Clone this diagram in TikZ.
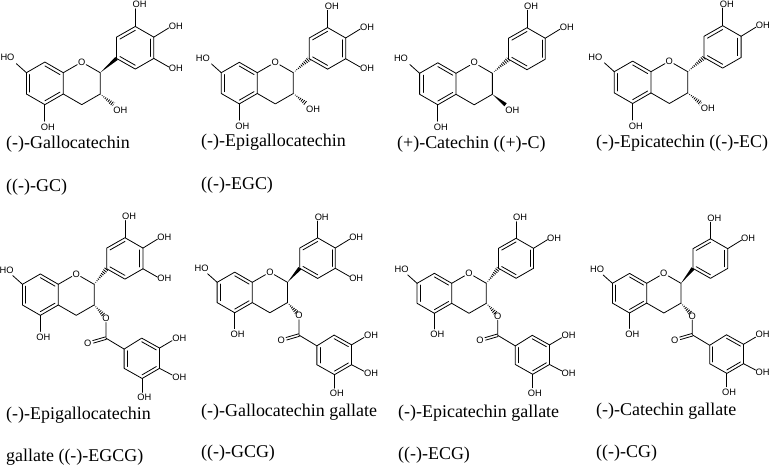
\documentclass[tikz,border=0pt]{standalone}
\usepackage{fontspec}
\setmainfont{Liberation Serif}
\newfontfamily\labfont{Liberation Sans}
\usetikzlibrary{calc}
\tikzset{
  bond/.style={line width=0.8pt,black,line cap=round,line join=round},
  lab/.style={font=\labfont\fontsize{9.3}{10}\selectfont,inner sep=0.6pt,text=black},
  captext/.style={font=\fontsize{17.95}{20}\selectfont,anchor=base west,inner sep=0pt,text=black}
}
\newcommand\wedgebond[2]{\fill[black] (#1) -- ($(#2)!1.9pt!90:(#1)$) -- ($(#2)!1.9pt!-90:(#1)$) -- cycle;}
\newcommand\hashbond[2]{\begin{scope}
  \clip (#1) -- ($(#2)!2.4pt!90:(#1)$) -- ($(#2)!2.4pt!-90:(#1)$) -- cycle;
  \draw[black,line width=6pt,dash pattern=on 0.8pt off 1.3pt] (#1) -- (#2);
\end{scope}}
% double bond: second line inside the ring, towards centre #3
\newcommand\dbl[3]{\draw[bond] ($(#1)!0.18!(#3)$) -- ($(#2)!0.18!(#3)$);}
% chroman core: prefix, x position of the HO label
\newcommand\core[2]{
  \coordinate (#1c8a) at (0,0);
  \coordinate (#1c4a) at (0,1);
  \coordinate (#1c5) at (-.866,1.5);
  \coordinate (#1c6) at (-1.732,1);
  \coordinate (#1c7) at (-1.732,0);
  \coordinate (#1c8) at (-.866,-.5);
  \coordinate (#1c2) at (1.732,0);
  \coordinate (#1c3) at (1.732,1);
  \coordinate (#1c4) at (.866,1.5);
  \coordinate (#1ca) at (-.866,.5);
  \node[lab] (#1O) at (.866,-.5) {O};
  \coordinate (#1x7) at (-2.2,-.42);
  \coordinate (#1x5) at (-.866,2.28);
  \node[lab] (#1ho7) at (#2,-.7) {HO};
  \node[lab] (#1oh5) at (-.72,2.56) {OH};
  \draw[bond] (#1c8a) -- (#1c4a) -- (#1c5) -- (#1c6) -- (#1c7) -- (#1c8) -- (#1c8a);
  \draw[bond] (#1c8a) -- (#1O) -- (#1c2) -- (#1c3) -- (#1c4) -- (#1c4a);
  \draw[bond] (#1c7) -- (#1x7);
  \draw[bond] (#1c5) -- (#1x5);
  \dbl{#1c8}{#1c8a}{#1ca}
  \dbl{#1c4a}{#1c5}{#1ca}
  \dbl{#1c6}{#1c7}{#1ca}
}
% B ring: prefix, stereo of C2 bond, third hydroxyl (1 = drawn)
\newcommand\ringB[3]{
  \coordinate (#1b1) at (2.5,-.67);
  \coordinate (#1b2) at (2.5,-1.67);
  \coordinate (#1b3) at (3.38,-2.17);
  \coordinate (#1b4) at (4.25,-1.67);
  \coordinate (#1b5) at (4.25,-.67);
  \coordinate (#1b6) at (3.38,-.17);
  \coordinate (#1bc) at (3.38,-1.17);
  \coordinate (#1x3) at (3.38,-3.0);
  \coordinate (#1x4) at (4.95,-2.1);
  \node[lab] (#1oh3) at (3.58,-3.2) {OH};
  \node[lab] (#1oh4) at (5.28,-2.19) {OH};
  \draw[bond] (#1b1) -- (#1b2) -- (#1b3) -- (#1b4) -- (#1b5) -- (#1b6) -- (#1b1);
  \draw[bond] (#1b3) -- (#1x3);
  \draw[bond] (#1b4) -- (#1x4);
  \dbl{#1b2}{#1b3}{#1bc}
  \dbl{#1b4}{#1b5}{#1bc}
  \dbl{#1b6}{#1b1}{#1bc}
  \ifnum#3=1
    \coordinate (#1x5b) at (4.95,-.27);
    \node[lab] (#1oh5b) at (5.28,-.2) {OH};
    \draw[bond] (#1b5) -- (#1x5b);
  \fi
  #2{#1c2}{#1b1}
}
% free 3-OH: prefix, stereo
\newcommand\threeOH[2]{
  \coordinate (#1x3o) at (2.36,1.5);
  \node[lab] (#1oh3o) at (2.68,1.75) {OH};
  #2{#1c3}{#1x3o}
}
% gallate ester on C3
\newcommand\gallate[1]{
  \coordinate (#1x3o) at (2.2,1.5);
  \node[lab] (#1eO) at (2.3,1.65) {O};
  \coordinate (#1gc) at (2.3,2.6);
  \coordinate (#1gx) at (1.68,2.78);
  \node[lab] (#1dO) at (1.42,2.87) {O};
  \coordinate (#1g1) at (3.18,3.13);
  \coordinate (#1g2) at (3.18,4.06);
  \coordinate (#1g3) at (4.05,4.55);
  \coordinate (#1g4) at (4.89,4.06);
  \coordinate (#1g5) at (4.89,3.08);
  \coordinate (#1g6) at (4.03,2.6);
  \coordinate (#1gm) at (4.03,3.58);
  \coordinate (#1y5) at (5.5,2.72);
  \coordinate (#1y4) at (5.5,4.38);
  \coordinate (#1y3) at (4.05,5.22);
  \node[lab] (#1g5oh) at (5.85,2.6) {OH};
  \node[lab] (#1g4oh) at (5.85,4.5) {OH};
  \node[lab] (#1g3oh) at (4.16,5.48) {OH};
  \hashbond{#1c3}{#1x3o}
  \draw[bond] (#1eO) -- (#1gc) -- (#1g1) -- (#1g2) -- (#1g3) -- (#1g4) -- (#1g5) -- (#1g6) -- (#1g1);
  \draw[bond] ($(#1gc)!1.3pt!90:(#1gx)$) -- ($(#1gx)!1.3pt!-90:(#1gc)$);
  \draw[bond] ($(#1gc)!1.3pt!-90:(#1gx)$) -- ($(#1gx)!1.3pt!90:(#1gc)$);
  \draw[bond] (#1g5) -- (#1y5);
  \draw[bond] (#1g4) -- (#1y4);
  \draw[bond] (#1g3) -- (#1y3);
  \dbl{#1g1}{#1g2}{#1gm}
  \dbl{#1g3}{#1g4}{#1gm}
  \dbl{#1g5}{#1g6}{#1gm}
}
% molecules without / with gallate
\newcommand\plainmol[7]{\begin{scope}[shift={(#2,#3)},x=#4pt,y=-#4pt]
  \core{#1}{-2.62}\ringB{#1}{#5}{#7}\threeOH{#1}{#6}
\end{scope}}
\newcommand\galmol[7]{\begin{scope}[shift={(#2,#3)},x=#4pt,y=-#4pt]
  \core{#1}{-2.5}
  \begin{scope}[shift={(-.16,#7)}]\ringB{#1}{#5}{#6}\end{scope}
  \gallate{#1}
\end{scope}}
\begin{document}
\begin{tikzpicture}[x=1pt,y=-1pt]
\useasboundingbox (0,0) rectangle (772,465);
\fill[white] (0,0) rectangle (772,465);
\plainmol{a}{63.3}{72.7}{21.3}{\wedgebond}{\hashbond}{1}
\plainmol{b}{257.3}{72.7}{20.8}{\hashbond}{\hashbond}{1}
\plainmol{c}{456}{73.3}{21}{\hashbond}{\wedgebond}{0}
\plainmol{d}{651}{71.7}{21.2}{\hashbond}{\hashbond}{0}
\galmol{e}{58.3}{284.3}{20.7}{\hashbond}{1}{-.08}
\galmol{f}{252.3}{282.3}{20.3}{\wedgebond}{1}{-.02}
\galmol{g}{451.7}{283.3}{20}{\hashbond}{0}{-.08}
\galmol{h}{646.7}{283.3}{19.8}{\wedgebond}{0}{-.08}
\node[captext] (ta) at (6,149) {(-)-Gallocatechin};
\node[captext] (ta2) at (6,191.7) {((-)-GC)};
\node[captext] (tb) at (201,147) {(-)-Epigallocatechin};
\node[captext] (tb2) at (201,190) {((-)-EGC)};
\node[captext] (tc) at (397,149) {(+)-Catechin ((+)-C)};
\node[captext] (td) at (596,147.7) {(-)-Epicatechin ((-)-EC)};
\node[captext] (te) at (6,420) {(-)-Epigallocatechin};
\node[captext] (te2) at (6,461) {gallate ((-)-EGCG)};
\node[captext] (tf) at (201,416.7) {(-)-Gallocatechin gallate};
\node[captext] (tf2) at (201,457.7) {((-)-GCG)};
\node[captext] (tg) at (398,417.7) {(-)-Epicatechin gallate};
\node[captext] (tg2) at (398,459.3) {((-)-ECG)};
\node[captext] (th) at (596,415.7) {(-)-Catechin gallate};
\node[captext] (th2) at (596,457.3) {((-)-CG)};
\end{tikzpicture}
\end{document}
